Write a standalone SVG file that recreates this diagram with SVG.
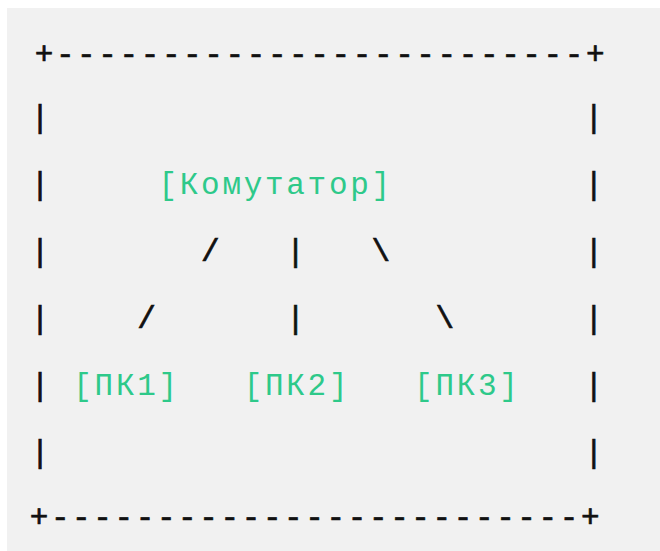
<svg xmlns="http://www.w3.org/2000/svg" width="660" height="551" viewBox="0 0 660 551">
  <style>
    .t { font-family: "Liberation Mono", "DejaVu Sans Mono", monospace; font-size: 31px; letter-spacing: 2.7px; fill: #111111; stroke: #111111; stroke-width: 0.7px; white-space: pre; }
    .n { fill: #2ec98a; stroke: none; }
  </style>
  <rect x="0" y="0" width="660" height="551" fill="#ffffff"/>
  <rect x="7" y="8" width="653" height="543" fill="#f1f1f1"/>
  <g id="frame">
    <text class="t" x="34.7" y="63.8" style="letter-spacing:2.6px">+-------------------------+</text>
    <text class="t" x="30.7" y="127">|</text>
    <text class="t" x="584.5" y="127">|</text>
    <text class="t" x="30.7" y="193.9">|</text>
    <text class="t" x="584.5" y="193.9">|</text>
    <text class="t" x="30.7" y="260.8">|</text>
    <text class="t" x="584.5" y="260.8">|</text>
    <text class="t" x="30.7" y="327.7">|</text>
    <text class="t" x="584.5" y="327.7">|</text>
    <text class="t" x="30.7" y="394.6">|</text>
    <text class="t" x="584.5" y="394.6">|</text>
    <text class="t" x="30.7" y="461.5">|</text>
    <text class="t" x="584.5" y="461.5">|</text>
    <text class="t" x="29.7" y="527" style="letter-spacing:2.6px">+-------------------------+</text>
  </g>
  <g id="switch">
    <text class="t n" x="158.5" y="193.9">[Комутатор]</text>
  </g>
  <g id="pc1">
    <text class="t n" x="73.3" y="394.6">[ПК1]</text>
  </g>
  <g id="pc2">
    <text class="t n" x="243.7" y="394.6">[ПК2]</text>
  </g>
  <g id="pc3">
    <text class="t n" x="414.1" y="394.6">[ПК3]</text>
  </g>
  <g id="connectors">
    <text class="t" x="201.1" y="260.8">/</text>
    <text class="t" x="286.3" y="260.8">|</text>
    <text class="t" x="371.5" y="260.8">\</text>
    <text class="t" x="137.2" y="327.7">/</text>
    <text class="t" x="286.3" y="327.7">|</text>
    <text class="t" x="435.4" y="327.7">\</text>
  </g>
</svg>
